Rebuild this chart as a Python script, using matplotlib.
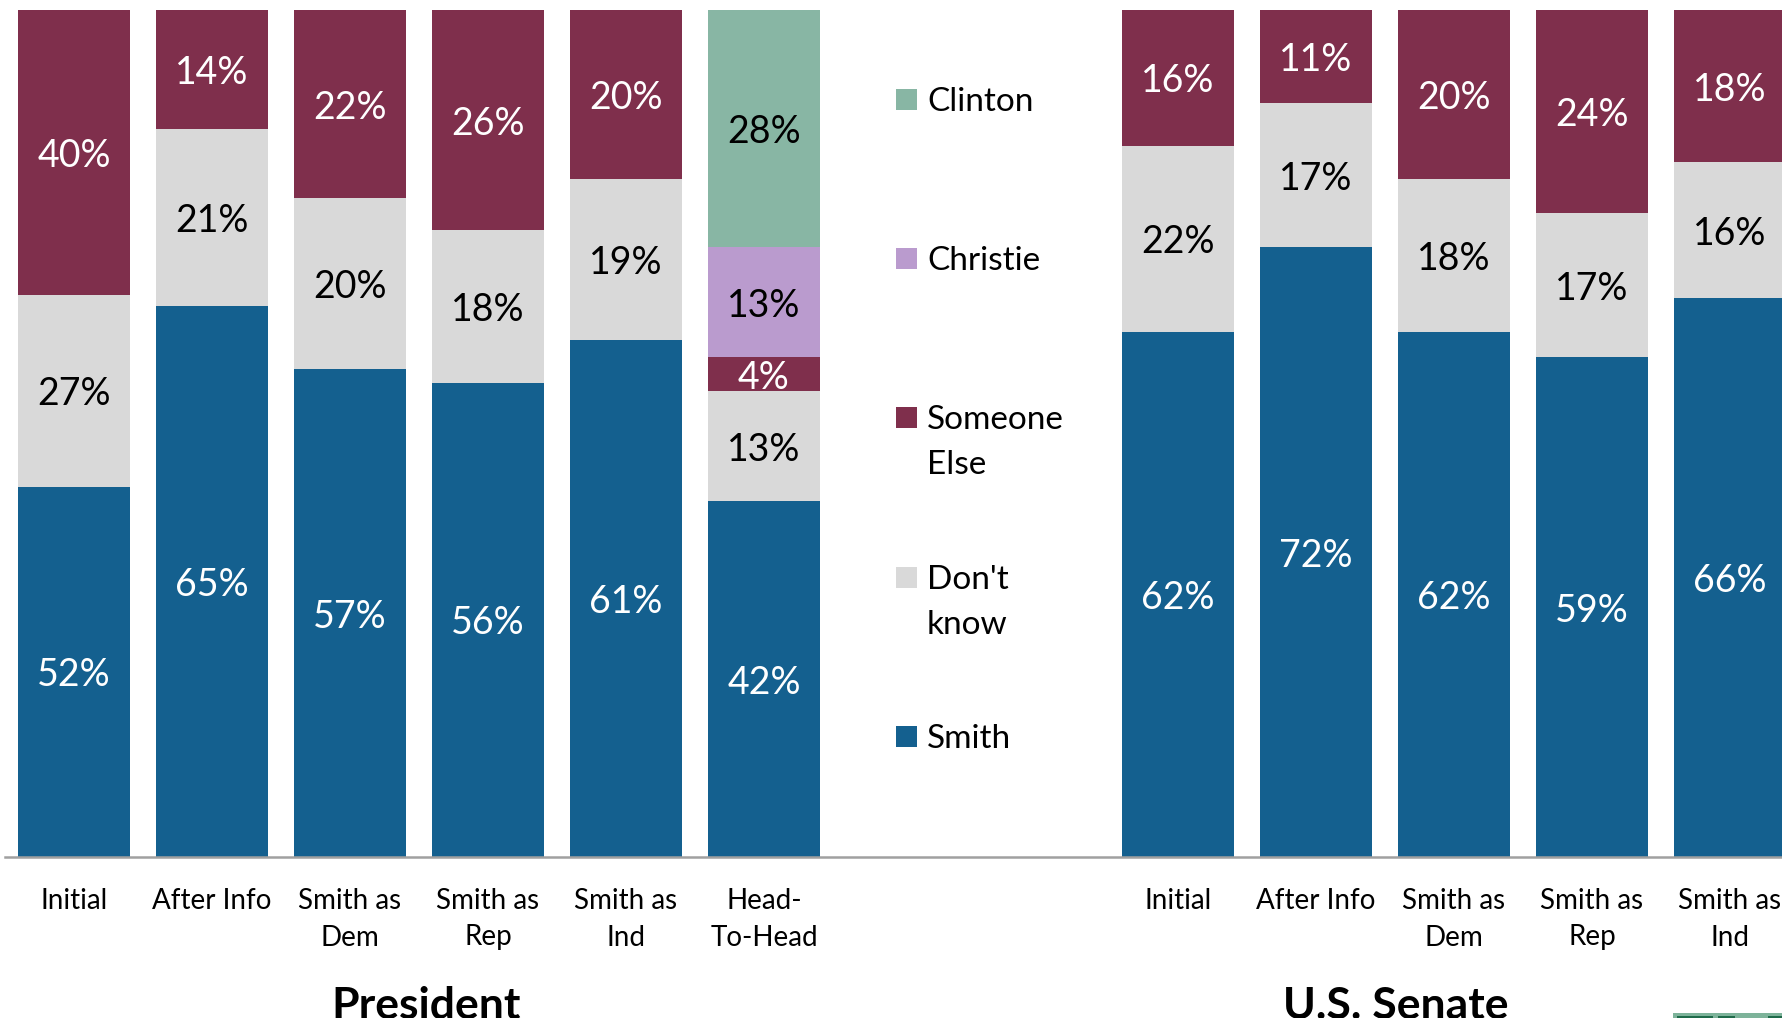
import matplotlib
matplotlib.use('Agg')
import matplotlib.pyplot as plt
from matplotlib.patches import Rectangle
from matplotlib.transforms import blended_transform_factory
import numpy as np

plt.rcParams['font.family'] = ['Lato', 'DejaVu Sans']

# data (label values as printed; bars are drawn as 100% stacked)
pres_cats = ['Initial', 'After Info', 'Smith as\nDem', 'Smith as\nRep', 'Smith as\nInd', 'Head-\nTo-Head']
sen_cats = ['Initial', 'After Info', 'Smith as\nDem', 'Smith as\nRep', 'Smith as\nInd']
group_titles = ['President', 'U.S. Senate']

smith = [52, 65, 57, 56, 61, 42, 62, 72, 62, 59, 66]
dont_know = [27, 21, 20, 18, 19, 13, 22, 17, 18, 17, 16]
someone_else = [40, 14, 22, 26, 20, 4, 16, 11, 20, 24, 18]
christie = [0, 0, 0, 0, 0, 13, 0, 0, 0, 0, 0]
clinton = [0, 0, 0, 0, 0, 28, 0, 0, 0, 0, 0]

series_names = ['Smith', "Don't\nknow", 'Someone\nElse', 'Christie', 'Clinton']
series_vals = [smith, dont_know, someone_else, christie, clinton]
colors = ['#14608F', '#D9D9D9', '#7F2F4C', '#BA9BCE', '#88B6A4']
text_colors = ['white', 'black', 'white', 'black', 'black']

W, H = 1783, 1018
fig = plt.figure(figsize=(W / 100, H / 100), dpi=100)
ax = fig.add_axes([5 / W, (H - 857) / H, 1 - 5 / W, (857 - 10) / H])

# president bars at 0..5, gap for legend, senate at 8..12
x = np.array(list(range(len(pres_cats))) + list(range(8, 8 + len(sen_cats))))
vals = np.array(series_vals, dtype=float)
totals = vals.sum(axis=0)
shares = vals / totals

bottom = np.zeros(len(x))
for i in range(len(series_names)):
    ax.bar(x, shares[i], width=0.81, bottom=bottom, color=colors[i], linewidth=0)
    for j in range(len(x)):
        if vals[i, j] > 0:
            ax.text(x[j], bottom[j] + shares[i, j] / 2, f'{vals[i, j]:.0f}%',
                    ha='center', va='center_baseline', fontsize=27, color=text_colors[i])
    bottom += shares[i]

ax.set_xlim(-0.5, -0.5 + (W - 5) / 138)
ax.set_ylim(0, 1)
ax.set_xticks([])
ax.set_yticks([])
for s in ['top', 'left', 'right']:
    ax.spines[s].set_visible(False)
ax.spines['bottom'].set_color('#A0A0A0')
ax.spines['bottom'].set_linewidth(1.8)

# category labels and group titles
trans = blended_transform_factory(ax.transData, fig.transFigure)
for xi, lab in zip(x, pres_cats + sen_cats):
    ax.text(xi, (H - 888) / H, lab, transform=trans, ha='center', va='top',
            fontsize=20, linespacing=1.5, clip_on=False)
ax.text(2.55, -0.001, group_titles[0], transform=trans, ha='center', va='baseline',
        fontsize=32, fontweight='bold', clip_on=False)
ax.text(9.58, -0.001, group_titles[1], transform=trans, ha='center', va='baseline',
        fontsize=32, fontweight='bold', clip_on=False)

# legend, top to bottom in reverse stacking order
leg_tops = [89, 248, 407, 567, 726]
for top, i in zip(leg_tops, range(len(series_names) - 1, -1, -1)):
    fig.add_artist(Rectangle((896 / W, (H - top - 21) / H), 21 / W, 21 / H,
                             transform=fig.transFigure, color=colors[i], linewidth=0))
    fig.text(927 / W, (H - top + 2) / H, series_names[i], ha='left', va='top',
             fontsize=24, linespacing=1.62)

# partial logo strip at the bottom right corner
fig.add_artist(Rectangle((1673 / W, 0), 110 / W, 5 / H, transform=fig.transFigure,
                         color='#7DB39A', linewidth=0))
for x0, x1 in [(1677, 1713), (1718, 1735), (1768, 1783)]:
    fig.add_artist(Rectangle((x0 / W, 0), (x1 - x0) / W, 2 / H, transform=fig.transFigure,
                             color='#1F6B4A', linewidth=0))

fig.savefig('out.png', dpi=100)
